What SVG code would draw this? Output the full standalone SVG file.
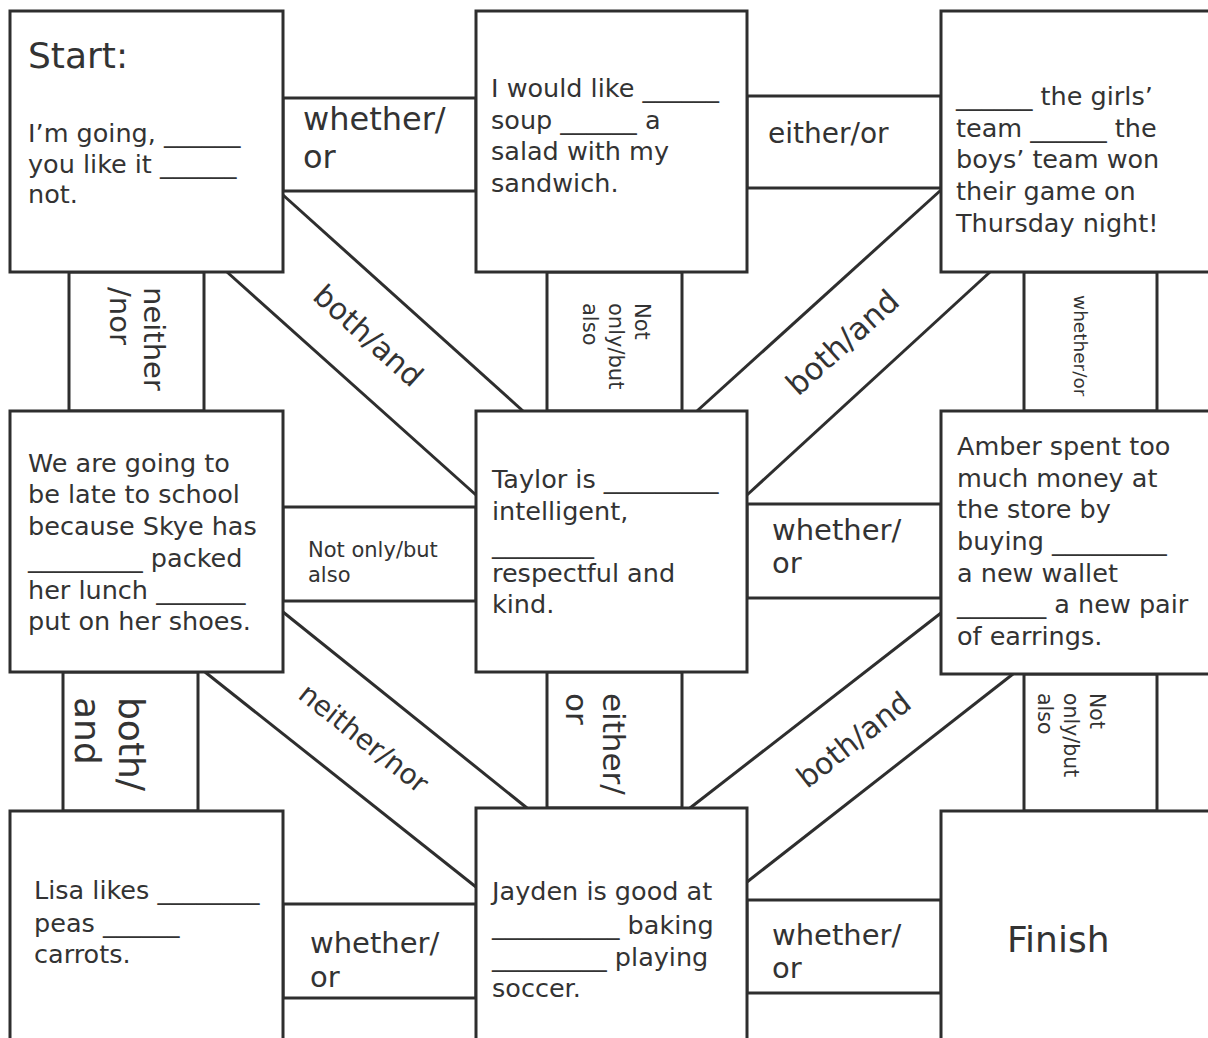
<svg xmlns="http://www.w3.org/2000/svg" width="1208" height="1038" viewBox="0 0 1208 1038">
<style>
  .bg { fill: #ffffff; }
  .box { fill: #ffffff; stroke: #2e2e2e; stroke-width: 3; }
  .band { fill: #ffffff; stroke: #2e2e2e; stroke-width: 3; }
  .diag { stroke: #2e2e2e; stroke-width: 3; fill: none; }
  text { font-family: "DejaVu Sans", "Liberation Sans", sans-serif; fill: #333333; }
  .body { font-size: 25.5px; }
  .big { font-size: 36px; }
</style>
<rect class="bg" x="0" y="0" width="1208" height="1038"/>

<g id="connectors">
  <!-- horizontal bands -->
  <rect class="band" x="283" y="98" width="193" height="93"/>
  <rect class="band" x="747" y="96" width="194" height="92"/>
  <rect class="band" x="283" y="507" width="193" height="94"/>
  <rect class="band" x="747" y="504" width="194" height="94"/>
  <rect class="band" x="283" y="904" width="193" height="94"/>
  <rect class="band" x="747" y="900" width="194" height="93"/>
  <!-- vertical bands -->
  <rect class="band" x="69" y="272" width="135" height="139"/>
  <rect class="band" x="547" y="272" width="135" height="139"/>
  <rect class="band" x="1024" y="272" width="133" height="139"/>
  <rect class="band" x="63" y="672" width="135" height="139"/>
  <rect class="band" x="547" y="672" width="135" height="136"/>
  <rect class="band" x="1024" y="674" width="133" height="137"/>
  <!-- diagonal bands -->
  <line class="diag" x1="283" y1="195" x2="523" y2="411"/>
  <line class="diag" x1="227" y1="272" x2="476" y2="495"/>
  <line class="diag" x1="941" y1="190" x2="697" y2="411"/>
  <line class="diag" x1="990" y1="272" x2="747" y2="495"/>
  <line class="diag" x1="283" y1="612" x2="527" y2="808"/>
  <line class="diag" x1="205" y1="672" x2="476" y2="887"/>
  <line class="diag" x1="941" y1="613" x2="690" y2="808"/>
  <line class="diag" x1="1013" y1="674" x2="747" y2="882"/>

  <!-- labels: horizontal -->
  <text x="303" y="130" font-size="32"><tspan x="303" y="130">whether/</tspan><tspan x="303" y="168">or</tspan></text>
  <text x="768" y="143" font-size="28">either/or</text>
  <text x="308" y="557" font-size="21"><tspan x="308" y="557">Not only/but</tspan><tspan x="308" y="582">also</tspan></text>
  <text x="772" y="540" font-size="29"><tspan x="772" y="540">whether/</tspan><tspan x="772" y="573">or</tspan></text>
  <text x="310" y="953" font-size="29"><tspan x="310" y="953">whether/</tspan><tspan x="310" y="987">or</tspan></text>
  <text x="772" y="945" font-size="29"><tspan x="772" y="945">whether/</tspan><tspan x="772" y="978">or</tspan></text>

  <!-- labels: vertical -->
  <text transform="translate(144,287) rotate(90)" font-size="29"><tspan x="0" y="0">neither</tspan><tspan x="0" y="34">/nor</tspan></text>
  <text transform="translate(635,303) rotate(90)" font-size="21"><tspan x="0" y="0">Not</tspan><tspan x="0" y="26">only/but</tspan><tspan x="0" y="52">also</tspan></text>
  <text transform="translate(1074,295) rotate(90)" font-size="18.5">whether/or</text>
  <text transform="translate(119,697) rotate(90)" font-size="36"><tspan x="0" y="0">both/</tspan><tspan x="0" y="44">and</tspan></text>
  <text transform="translate(603,693) rotate(90)" font-size="31"><tspan x="0" y="0">either/</tspan><tspan x="0" y="37">or</tspan></text>
  <text transform="translate(1090,693) rotate(90)" font-size="20.5"><tspan x="0" y="0">Not</tspan><tspan x="0" y="26">only/but</tspan><tspan x="0" y="52">also</tspan></text>

  <!-- labels: diagonal -->
  <text transform="translate(368,336) rotate(42)" font-size="30" text-anchor="middle" y="10">both/and</text>
  <text transform="translate(843,343) rotate(-42)" font-size="31" text-anchor="middle" y="10">both/and</text>
  <text transform="translate(364,738) rotate(38.5)" font-size="28" text-anchor="middle" y="10">neither/nor</text>
  <text transform="translate(854,740) rotate(-38)" font-size="30" text-anchor="middle" y="10">both/and</text>
</g>

<g id="node-start">
  <rect class="box" x="10" y="11" width="273" height="261"/>
  <text class="big" x="28" y="68" font-size="35">Start:</text>
  <text class="body"><tspan x="28" y="142">I’m going, ______</tspan><tspan x="28" y="173">you like it ______</tspan><tspan x="28" y="203">not.</tspan></text>
</g>

<g id="node-soup">
  <rect class="box" x="476" y="11" width="271" height="261"/>
  <text class="body"><tspan x="491" y="97">I would like ______</tspan><tspan x="491" y="129">soup ______ a</tspan><tspan x="491" y="160">salad with my</tspan><tspan x="491" y="192">sandwich.</tspan></text>
</g>

<g id="node-teams">
  <rect class="box" x="941" y="11" width="290" height="261"/>
  <text class="body"><tspan x="956" y="105">______ the girls’</tspan><tspan x="956" y="137">team ______ the</tspan><tspan x="956" y="168">boys’ team won</tspan><tspan x="956" y="200">their game on</tspan><tspan x="956" y="232">Thursday night!</tspan></text>
</g>

<g id="node-skye">
  <rect class="box" x="10" y="411" width="273" height="261"/>
  <text class="body"><tspan x="28" y="472">We are going to</tspan><tspan x="28" y="503">be late to school</tspan><tspan x="28" y="535">because Skye has</tspan><tspan x="28" y="567">_________ packed</tspan><tspan x="28" y="599">her lunch _______</tspan><tspan x="28" y="630">put on her shoes.</tspan></text>
</g>

<g id="node-taylor">
  <rect class="box" x="476" y="411" width="271" height="261"/>
  <text class="body"><tspan x="492" y="488">Taylor is _________</tspan><tspan x="492" y="520">intelligent,</tspan><tspan x="492" y="553">________</tspan><tspan x="492" y="582">respectful and</tspan><tspan x="492" y="613">kind.</tspan></text>
</g>

<g id="node-amber">
  <rect class="box" x="941" y="411" width="290" height="263"/>
  <text class="body"><tspan x="957" y="455">Amber spent too</tspan><tspan x="957" y="487">much money at</tspan><tspan x="957" y="518">the store by</tspan><tspan x="957" y="550">buying _________</tspan><tspan x="957" y="582">a new wallet</tspan><tspan x="957" y="613">_______ a new pair</tspan><tspan x="957" y="645">of earrings.</tspan></text>
</g>

<g id="node-lisa">
  <rect class="box" x="10" y="811" width="273" height="250"/>
  <text class="body"><tspan x="34" y="899">Lisa likes ________</tspan><tspan x="34" y="932">peas ______</tspan><tspan x="34" y="963">carrots.</tspan></text>
</g>

<g id="node-jayden">
  <rect class="box" x="476" y="808" width="271" height="250"/>
  <text class="body"><tspan x="492" y="900">Jayden is good at</tspan><tspan x="492" y="934">__________ baking</tspan><tspan x="492" y="966">_________ playing</tspan><tspan x="492" y="997">soccer.</tspan></text>
</g>

<g id="node-finish">
  <rect class="box" x="941" y="811" width="290" height="250"/>
  <text class="big" x="1007" y="952">Finish</text>
</g>
</svg>
